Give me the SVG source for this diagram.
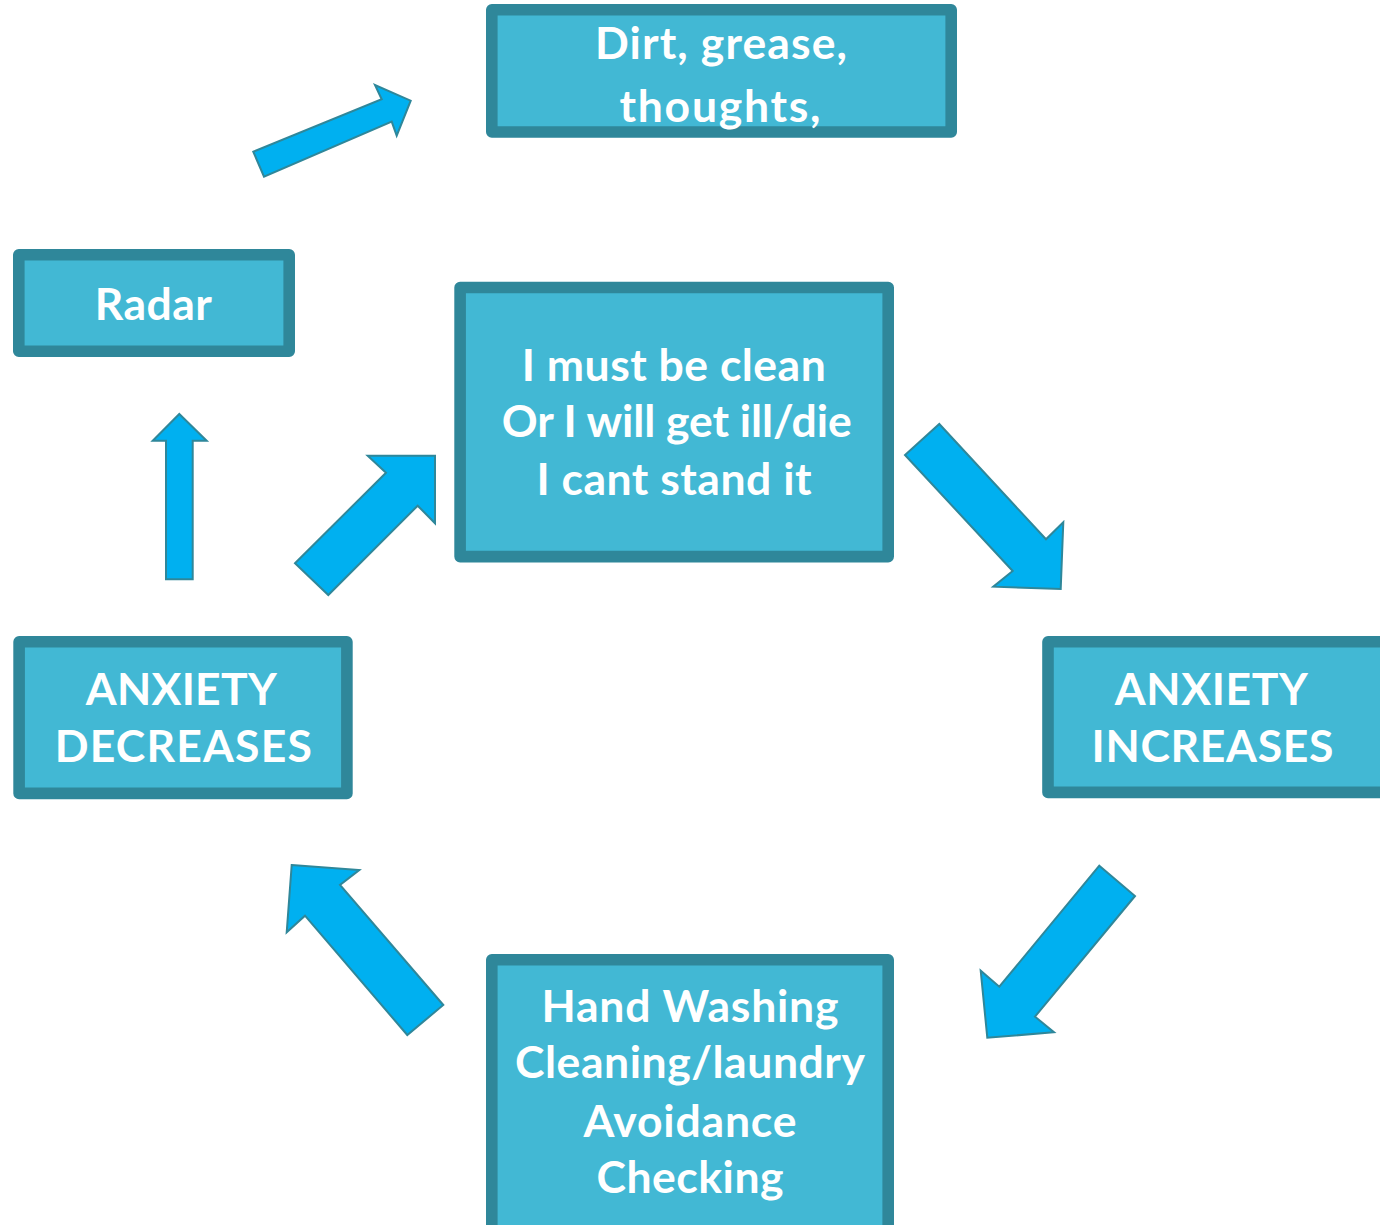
<svg xmlns="http://www.w3.org/2000/svg" width="1380" height="1225" viewBox="0 0 1380 1225">
  <style>
    .box { fill: #42B8D4; stroke: #2F879A; stroke-width: 11.6; stroke-linejoin: round; }
    .lbl { font-family: Lato, "Open Sans", "Liberation Sans", sans-serif; font-weight: 700; font-size: 44.5px; fill: #FFFFFF; text-anchor: middle; }
    .arrow { fill: #00B0F0; stroke: #2F879A; stroke-width: 2; stroke-linejoin: miter; }
  </style>
  <rect width="1380" height="1225" fill="#FFFFFF"/>

  <!-- cycle arrows -->
  <g id="connectors">
    <polygon class="arrow" points="253.3,151.7 381.7,99.3 375,85 410.7,100.7 396.7,135.7 391.7,121.7 264,176.7"/>
    <polygon class="arrow" points="179.3,414 206.7,440.7 192.7,440.7 192.7,579.3 166,579.3 166,440.7 152.7,440.7"/>
    <polygon class="arrow" points="295,563.3 386,472.7 367.7,455.7 435,455.7 435,523.3 417.7,505.7 328.3,595"/>
    <polygon class="arrow" points="939.3,424 1046,539.3 1063.3,522.3 1060.7,589 993.3,586.7 1012.7,571 905,455"/>
    <polygon class="arrow" points="1099.3,865.7 1135,896 1035,1016.7 1054,1032.3 987.3,1037.7 980.7,970.7 999.3,986.7"/>
    <polygon class="arrow" points="291.7,865 359.3,870 340,885 443.3,1005 407.3,1035 305,915.7 286.7,932.3"/>
  </g>

  <g id="triggers">
    <rect class="box" x="491.8" y="9.8" width="459.4" height="122.2"/>
    <text class="lbl" x="721" y="59.3" textLength="252">Dirt, grease,</text>
    <text class="lbl" x="720" y="121.7" textLength="201">thoughts,</text>
  </g>

  <g id="radar">
    <rect class="box" x="18.8" y="254.8" width="270.4" height="96.4"/>
    <text class="lbl" x="153.3" y="320" textLength="117">Radar</text>
  </g>

  <g id="beliefs">
    <rect class="box" x="460.1" y="287.5" width="428.1" height="269.1"/>
    <text class="lbl" x="673.8" y="381" textLength="304">I must be clean</text>
    <text class="lbl" x="676.7" y="437.3" textLength="350">Or I will get ill/die</text>
    <text class="lbl" x="674" y="495" textLength="275">I cant stand it</text>
  </g>

  <g id="anxiety-increases">
    <rect class="box" x="1048" y="641.8" width="340" height="150.6"/>
    <text class="lbl" x="1211.3" y="705" textLength="193">ANXIETY</text>
    <text class="lbl" x="1212.5" y="761.7" textLength="242">INCREASES</text>
  </g>

  <g id="anxiety-decreases">
    <rect class="box" x="19.1" y="641.8" width="327.8" height="151.6"/>
    <text class="lbl" x="181.3" y="705" textLength="191">ANXIETY</text>
    <text class="lbl" x="183.3" y="761.7" textLength="257">DECREASES</text>
  </g>

  <g id="behaviours">
    <rect class="box" x="491.8" y="959.8" width="396.4" height="280"/>
    <text class="lbl" x="690" y="1021.7" textLength="297">Hand Washing</text>
    <text class="lbl" x="690" y="1078.3" textLength="350">Cleaning/laundry</text>
    <text class="lbl" x="690" y="1136.7" textLength="213">Avoidance</text>
    <text class="lbl" x="690" y="1193.3" textLength="187">Checking</text>
  </g>
</svg>
